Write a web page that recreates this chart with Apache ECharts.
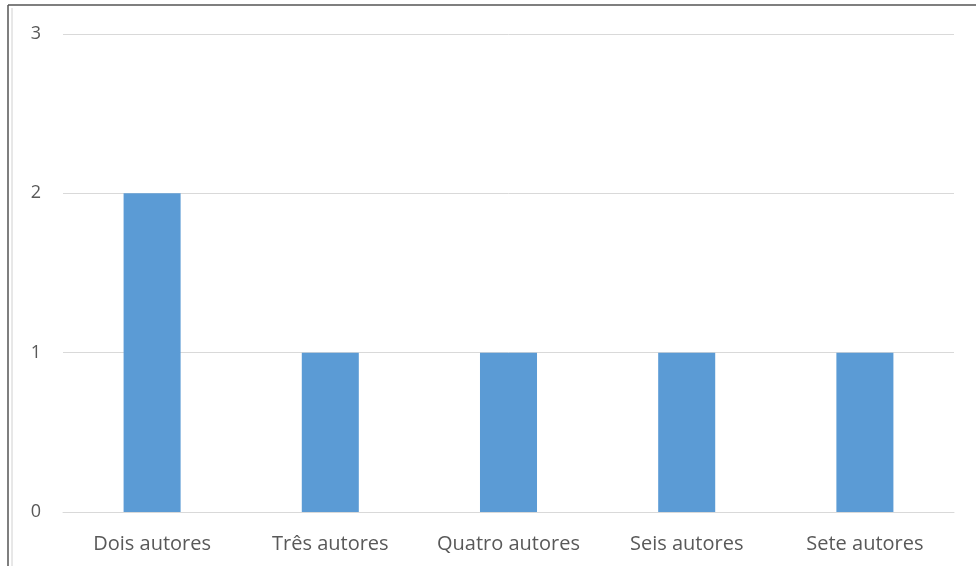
<!DOCTYPE html>
<html>
<head>
<meta charset="utf-8">
<script src="https://cdn.jsdelivr.net/npm/echarts@6/dist/echarts.min.js"></script>
<style>
html,body{margin:0;padding:0;background:#fff;}
#chart{width:976px;height:566px;}
</style>
</head>
<body>
<div id="chart"></div>
<script>
// Número de artigos por quantidade de autores
const categories = ['Dois autores', 'Três autores', 'Quatro autores', 'Seis autores', 'Sete autores'];
const values = [2, 1, 1, 1, 1];
const yTicks = [0, 1, 2, 3];

const chart = echarts.init(document.getElementById('chart'));
chart.setOption({
  animation: false,
  backgroundColor: '#ffffff',
  grid: { left: 63, right: 22, top: 34, bottom: 54, containLabel: false },
  xAxis: {
    type: 'category',
    data: categories,
    axisLine: { lineStyle: { color: '#d9d9d9', width: 1 } },
    axisTick: { show: false },
    axisLabel: {
      interval: 0,
      hideOverlap: false,
      color: '#595959',
      fontFamily: 'Open Sans',
      fontSize: 20,
      margin: 22
    }
  },
  yAxis: {
    type: 'value',
    min: yTicks[0],
    max: yTicks[yTicks.length - 1],
    interval: 1,
    axisLine: { show: false },
    axisTick: { show: false },
    splitLine: { lineStyle: { color: '#d9d9d9', width: 1 } },
    axisLabel: {
      color: '#595959',
      fontFamily: 'Open Sans',
      fontSize: 18,
      margin: 22
    }
  },
  series: [{
    type: 'bar',
    data: values,
    barWidth: '32%',
    itemStyle: { color: '#5b9bd5' }
  }],
  graphic: [
    { type: 'line', shape: { x1: 8, y1: 5, x2: 976, y2: 5 }, style: { stroke: '#555', lineWidth: 1.5 } },
    { type: 'line', shape: { x1: 8, y1: 5, x2: 8, y2: 566 }, style: { stroke: '#555', lineWidth: 1.5 } },
    { type: 'line', shape: { x1: 12, y1: 8, x2: 12, y2: 566 }, style: { stroke: '#d0d0d0', lineWidth: 1 } }
  ]
});
</script>
</body>
</html>
